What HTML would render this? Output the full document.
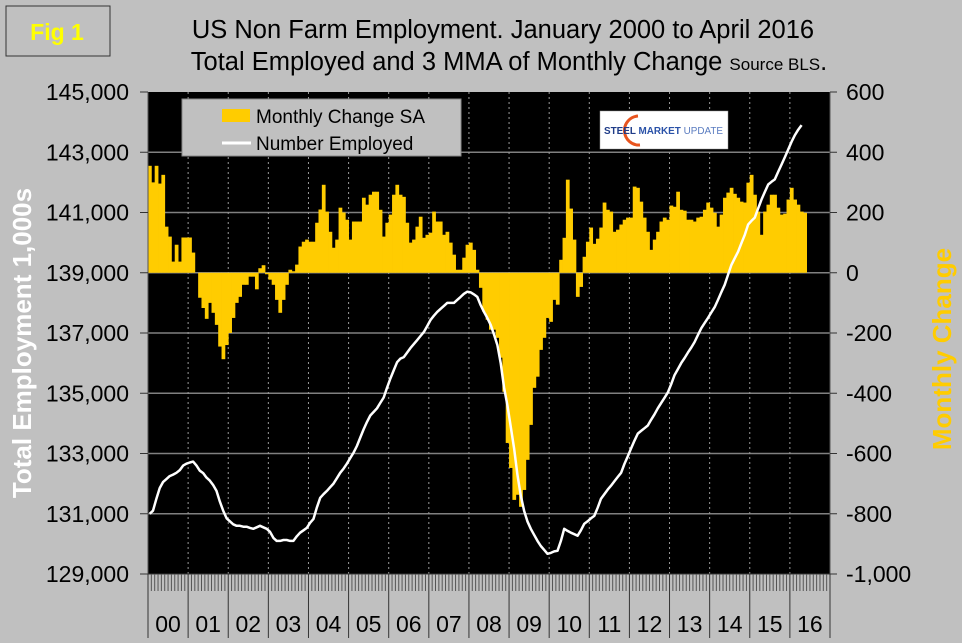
<!DOCTYPE html>
<html><head><meta charset="utf-8"><style>
html,body{margin:0;padding:0;background:#c0c0c0;}
svg{display:block;font-family:"Liberation Sans",Arial,sans-serif;}
</style></head><body>
<svg id="chart" width="962" height="643" viewBox="0 0 962 643" xmlns="http://www.w3.org/2000/svg">
<rect x="0" y="0" width="962" height="643" fill="#c0c0c0"/>
<g>
<rect x="6" y="6" width="104" height="50" fill="#c0c0c0" stroke="#333" stroke-width="1"/>
<text x="57" y="40" text-anchor="middle" font-size="23" font-weight="bold" fill="#ffff00">Fig 1</text>
</g>
<text x="503" y="38" text-anchor="middle" font-size="25.5" fill="#000">US Non Farm Employment. January 2000 to April 2016</text>
<text x="509" y="70" text-anchor="middle" font-size="25.5" fill="#000">Total Employed and 3 MMA of Monthly Change <tspan font-size="17">Source BLS</tspan>.</text>
<rect x="148" y="92" width="682" height="482" fill="#000"/>
<g id="grid"></g>
<g id="bars"></g>
<g id="line"></g>
<g id="axes"></g>
<g>
<rect x="182" y="99" width="279" height="57" fill="#c0c0c0" stroke="#888" stroke-width="1"/>
<rect x="222" y="109" width="28" height="13" fill="#ffcc00"/>
<text x="256" y="123" font-size="19" fill="#000">Monthly Change SA</text>
<line x1="222" y1="143" x2="251" y2="143" stroke="#fff" stroke-width="3"/>
<text x="256" y="150" font-size="19" fill="#000">Number Employed</text>
</g>
<g>
<rect x="600" y="111" width="128" height="38" fill="#fff" stroke="#999" stroke-width="0.5"/>
<path d="M 638 116 A 14 14 0 1 0 640 145" fill="none" stroke="#e8541e" stroke-width="3"/>
<text x="604" y="134" font-size="10.5" font-weight="bold" fill="#1f3c88" textLength="119" lengthAdjust="spacingAndGlyphs">STEEL <tspan fill="#2a52a8">MARKET</tspan> <tspan font-weight="normal" fill="#5a7cc0">UPDATE</tspan></text>
</g>
<text transform="translate(31,343) rotate(-90)" text-anchor="middle" font-size="26" font-weight="bold" fill="#ffffff">Total Employment 1,000s</text>
<text transform="translate(951,349) rotate(-90)" text-anchor="middle" font-size="26" font-weight="bold" fill="#ffcc00">Monthly Change</text>
</svg>
<script>
const changeValues=[355,300,355,296,325,153,120,37,93,37,117,117,117,67,0,
-83,-117,-153,-100,-133,-173,-245,-287,-240,-200,-150,-100,-80,-40,-40,-13,-13,-55,15,25,-5,-23,-40,-90,-133,-90,-40,10,5,
27,87,103,110,103,103,166,210,292,203,136,83,110,216,200,176,110,170,170,170,249,226,259,269,269,209,120,166,193,259,292,259,252,166,100,110,153,186,116,126,133,203,170,170,126,136,100,60,10,10,50,93,100,76,10,
-50,-130,-156,-189,-189,-216,-282,-395,-565,-648,-754,-737,-777,-721,-621,-505,-382,-345,-256,-216,
-150,-163,-90,-106,43,116,309,213,110,-80,-47,53,103,150,96,113,150,233,209,203,
136,143,160,176,183,183,286,282,236,183,136,76,110,136,170,183,176,223,219,269,
209,206,176,176,170,183,186,209,233,216,199,153,193,249,266,282,262,249,236,233,
299,325,259,203,126,203,226,259,259,216,193,196,243,282,243,226,203,199];
const employedValues=[131000,131100,131500,131850,132050,132150,132250,132300,132360,132450,132600,132660,132700,132730,132600,132430,132350,132200,132100,131950,
131760,131400,131100,130850,130750,130650,130600,130600,130570,130570,130530,130500,130550,130600,130550,130500,130400,130200,130100,130100,
130130,130130,130100,130100,130250,130370,130450,130530,130700,130830,131200,131530,131650,131760,131880,132000,132180,132360,132500,132660,
132850,133030,133250,133530,133800,134050,134260,134380,134500,134680,134860,135180,135490,135760,136030,136150,136200,136350,136500,136630,
136760,136900,137030,137230,137430,137570,137700,137800,137900,138000,138000,138000,138100,138200,138300,138370,138350,138280,138200,137930,
137700,137500,137270,136950,136600,136000,135200,134600,133900,133170,132300,131600,131100,130750,130500,130300,130100,129930,129800,129670,
129700,129750,129770,130100,130500,130430,130370,130320,130270,130450,130670,130750,130850,130930,131200,131500,131650,131800,131930,132080,
132220,132360,132650,132900,133170,133420,133660,133750,133840,133930,134120,134300,134500,134680,134850,135030,135300,135600,135800,136000,
136170,136350,136520,136700,136930,137160,137330,137500,137680,137860,138100,138350,138600,138930,139260,139480,139700,139980,140260,140600,
140720,140830,141130,141430,141680,141930,142020,142100,142350,142590,142840,143090,143350,143570,143750,143900];
const leftTicks=[145000,143000,141000,139000,137000,135000,133000,131000,129000];
const rightTicks=[600,400,200,0,-200,-400,-600,-800,-1000];
const yearLabels=["00","01","02","03","04","05","06","07","08","09","10","11","12","13","14","15","16"];

const NS="http://www.w3.org/2000/svg";
const X0=148,X1=830,Y0=92,Y1=574;
const MW=(X1-X0)/(yearLabels.length*12);
function xM(i){return X0+i*MW;}
function yL(v){return Y1-(v-129000)/(145000-129000)*(Y1-Y0);}
function yR(v){return Y1-(v+1000)/1600*(Y1-Y0);}
function mk(tag,attrs,parent){const e=document.createElementNS(NS,tag);for(const k in attrs)e.setAttribute(k,attrs[k]);parent.appendChild(e);return e;}
const grid=document.getElementById('grid'),bars=document.getElementById('bars'),line=document.getElementById('line'),axes=document.getElementById('axes');

rightTicks.forEach((t,k)=>{
  if(t!==600&&t!==-1000){const g=mk('line',{x1:X0,x2:X1,y1:yR(t),y2:yR(t),stroke:'#808080','stroke-width':1.5},grid);
  
  }
});
yearLabels.forEach((y,k)=>{
  if(k>0){const g=mk('line',{x1:xM(k*12),x2:xM(k*12),y1:Y0,y2:Y1,stroke:'#999','stroke-width':1,'stroke-dasharray':'2,3'},grid);
  
  }
});
changeValues.forEach((v,i)=>{
  const y0=yR(0),y=yR(v);
  const r=mk('rect',{x:xM(i),y:Math.min(y,y0),width:MW+0.4,height:Math.abs(y-y0),fill:'#ffcc00'},bars);
  
  
});
const pts=employedValues.map((v,i)=>(xM(i)+MW/2).toFixed(1)+','+yL(v).toFixed(1)).join(' ');
const pl=mk('polyline',{points:pts,fill:'none',stroke:'#fff','stroke-width':2.5,'stroke-linejoin':'round'},line);



mk('line',{x1:X0,x2:X0,y1:Y0,y2:Y1,stroke:'#555','stroke-width':1},axes);
mk('line',{x1:X1,x2:X1,y1:Y0,y2:Y1,stroke:'#555','stroke-width':1},axes);
leftTicks.forEach(t=>{
  mk('line',{x1:140,x2:X0,y1:yL(t),y2:yL(t),stroke:'#333','stroke-width':1},axes);
  const tx=mk('text',{x:129,y:yL(t)+8,'text-anchor':'end','font-size':23,fill:'#000'},axes);
  tx.textContent=t.toLocaleString('en-US');
  
  
});
rightTicks.forEach(t=>{
  mk('line',{x1:X1,x2:X1+7,y1:yR(t),y2:yR(t),stroke:'#333','stroke-width':1},axes);
  const tx=mk('text',{x:846,y:yR(t)+8,'font-size':23,fill:'#000'},axes);
  tx.textContent=t.toLocaleString('en-US');
  
  
});
mk('line',{x1:X0,x2:X1,y1:Y1,y2:Y1,stroke:'#333','stroke-width':1},axes);
for(let i=0;i<=yearLabels.length*12;i++){
  const major=i%12===0;
  mk('line',{x1:xM(i),x2:xM(i),y1:Y1,y2:major?638:591,stroke:major?'#333':'#555','stroke-width':1},axes);
}
yearLabels.forEach((y,k)=>{
  const tx=mk('text',{x:xM(k*12+6),y:632,'text-anchor':'middle','font-size':23,fill:'#000'},axes);
  tx.textContent=y;
  
  
});
</script>
</body></html>
